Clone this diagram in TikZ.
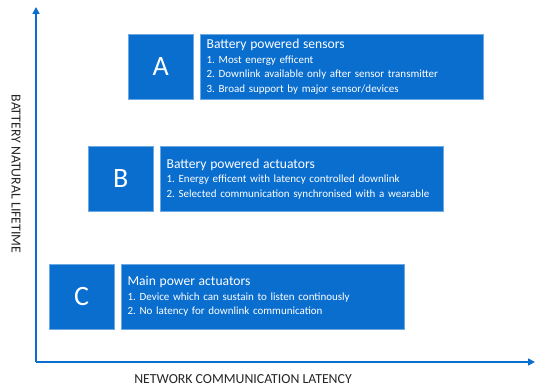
\documentclass[tikz,border=0pt]{standalone}
\usepackage{fontspec}
\setmainfont{Carlito}
\usepackage{tikz}
\usetikzlibrary{arrows.meta,positioning}
\definecolor{TierBlue}{HTML}{0A6ECF}
\definecolor{AxisGray}{HTML}{262626}

\tikzset{
  letterbox/.style={fill=TierBlue,draw=TierBlue!60,line width=0.4pt,text=white,
    minimum width=65pt,minimum height=65pt,inner sep=0pt,
    font=\fontsize{28}{30}\selectfont},
  infobox/.style={fill=TierBlue,draw=TierBlue!60,line width=0.4pt,text=white,
    text width=271pt,minimum height=65pt,inner xsep=6pt,inner ysep=3pt,align=left,
    font=\fontsize{11}{14.5}\selectfont\frenchspacing},
  axisline/.style={draw=TierBlue,line width=1.6pt,-{Triangle[length=7pt,width=7pt]}},
  axislabel/.style={text=AxisGray,font=\fontsize{13.8}{16}\selectfont}
}
\newcommand{\tiertitle}[1]{{\fontsize{13.6}{14.5}\selectfont #1}\\}

\begin{document}
\begin{tikzpicture}[x=1pt,y=-1pt]
  \useasboundingbox (0,0) rectangle (535,387);

  % axes
  \coordinate (origin) at (36,362);
  \coordinate (ytip) at (36,7);
  \coordinate (xtip) at (535,362);
  \draw[axisline] (origin) -- (ytip);
  \draw[axisline] (origin) -- (xtip);
  \node[axislabel,rotate=-90] (ylab) at (16,174) {BATTERY NATURAL LIFETIME};
  \node[axislabel] (xlab) at (243,379) {NETWORK COMMUNICATION LATENCY};

  % tier A
  \node[letterbox,anchor=north west] (letA) at (128,34) {A};
  \node[infobox,right=7pt of letA] (boxA) {%
    \tiertitle{Battery powered sensors}
    1. Most energy efficent\\
    2. Downlink available only after sensor transmitter\\
    3. Broad support by major sensor/devices};

  % tier B
  \node[letterbox,anchor=north west] (letB) at (88,146) {B};
  \node[infobox,right=7pt of letB] (boxB) {%
    \tiertitle{Battery powered actuators}
    1. Energy efficent with latency controlled downlink\\
    2. Selected communication synchronised with a wearable};

  % tier C
  \node[letterbox,anchor=north west] (letC) at (49,264) {C};
  \node[infobox,right=7pt of letC] (boxC) {%
    \tiertitle{Main power actuators}
    1. Device which can sustain to listen continously\\
    2. No latency for downlink communication};
\end{tikzpicture}
\end{document}
